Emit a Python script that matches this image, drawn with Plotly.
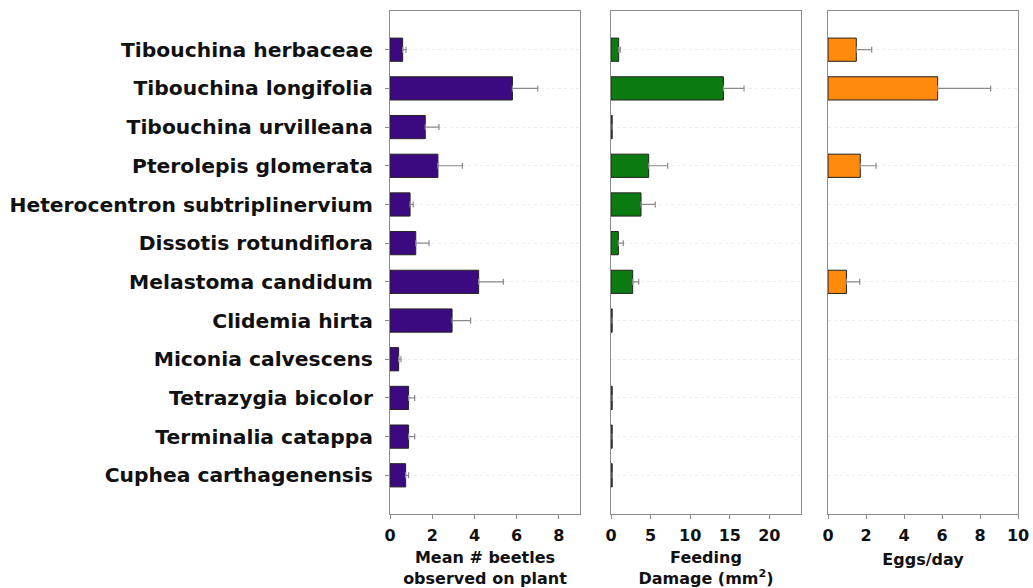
import plotly.graph_objects as go

species = [
    "Tibouchina herbaceae",
    "Tibouchina longifolia",
    "Tibouchina urvilleana",
    "Pterolepis glomerata",
    "Heterocentron subtriplinervium",
    "Dissotis rotundiflora",
    "Melastoma candidum",
    "Clidemia hirta",
    "Miconia calvescens",
    "Tetrazygia bicolor",
    "Terminalia catappa",
    "Cuphea carthagenensis",
]

beetles = [0.6, 5.8, 1.67, 2.27, 0.95, 1.22, 4.2, 2.94, 0.41, 0.88, 0.88, 0.74]
beetles_se = [0.16, 1.2, 0.65, 1.16, 0.15, 0.63, 1.17, 0.88, 0.11, 0.29, 0.29, 0.14]

damage = [0.97, 14.2, 0.15, 4.76, 3.79, 0.93, 2.74, 0.15, 0.0, 0.15, 0.15, 0.15]
damage_se = [0.21, 2.6, None, 2.4, 1.8, 0.63, 0.76, None, None, None, None, None]

eggs = [1.49, 5.77, 0, 1.7, 0, 0, 0.97, 0, 0, 0, 0, 0]
eggs_se = [0.81, 2.79, None, 0.83, None, None, 0.7, None, None, None, None, None]

x_titles = ["Mean # beetles<br>observed on plant", "Feeding<br>Damage (mm<sup>2</sup>)", "Eggs/day"]
x_ranges = [[0, 9], [0, 24], [0, 10]]
x_dticks = [2, 5, 2]
colors = ["#3c0a80", "#0b7a10", "#ff8a0c"]

W, H = 1033, 588
domains = [[390 / W, 580 / W], [611 / W, 801 / W], [828 / W, 1018 / W]]
ydom = [1 - 514 / H, 1 - 11 / H]

FONT = "DejaVu Sans, sans-serif"

fig = go.Figure()
series = [(beetles, beetles_se), (damage, damage_se), (eggs, eggs_se)]
for i, (vals, errs) in enumerate(series):
    n = "" if i == 0 else str(i + 1)
    fig.add_trace(go.Bar(
        y=species, x=[v if v > 0 else None for v in vals], orientation="h",
        xaxis="x" + n, yaxis="y" + n,
        width=0.6,
        marker=dict(color=colors[i], line=dict(color="#222222", width=1)),
        error_x=dict(type="data", array=errs, arrayminus=[0] * len(errs), symmetric=False,
                     color="#8a8a8a", thickness=1.2, width=3),
        showlegend=False,
    ))

layout = dict(
    width=W, height=H,
    margin=dict(l=0, r=0, t=0, b=0),
    paper_bgcolor="white", plot_bgcolor="white",
)
for i in range(3):
    n = "" if i == 0 else str(i + 1)
    layout["xaxis" + n] = dict(
        domain=domains[i], anchor="y" + n, range=x_ranges[i], dtick=x_dticks[i], tick0=0,
        showgrid=False, zeroline=False,
        showline=True, linecolor="#8c8c8c", linewidth=1, mirror=True,
        ticks="outside", ticklen=4, tickcolor="#8c8c8c",
        tickfont=dict(family=FONT, size=16, color="#111111", weight="bold"),
        ticklabelstandoff=3,
        title=dict(text=x_titles[i], font=dict(family=FONT, size=16, color="#111111", weight="bold"),
                   standoff=9),
        automargin=False,
    )
    layout["yaxis" + n] = dict(
        domain=ydom, anchor="x" + n, type="category",
        categoryorder="array", categoryarray=species,
        range=[12, -1],
        showgrid=True, gridcolor="#ececec", griddash="dot", gridwidth=1,
        zeroline=False,
        showline=True, linecolor="#8c8c8c", linewidth=1, mirror=True,
        ticks="outside" if i == 0 else "", ticklen=4, tickcolor="#8c8c8c",
        showticklabels=(i == 0),
        tickfont=dict(family=FONT, size=20.3, color="#111111", weight="bold"),
        ticklabelstandoff=8,
        automargin=False,
    )
fig.update_layout(**layout)

fig.write_html("out.html", config={"displayModeBar": False},
               post_script="document.body.style.margin='0px';")
